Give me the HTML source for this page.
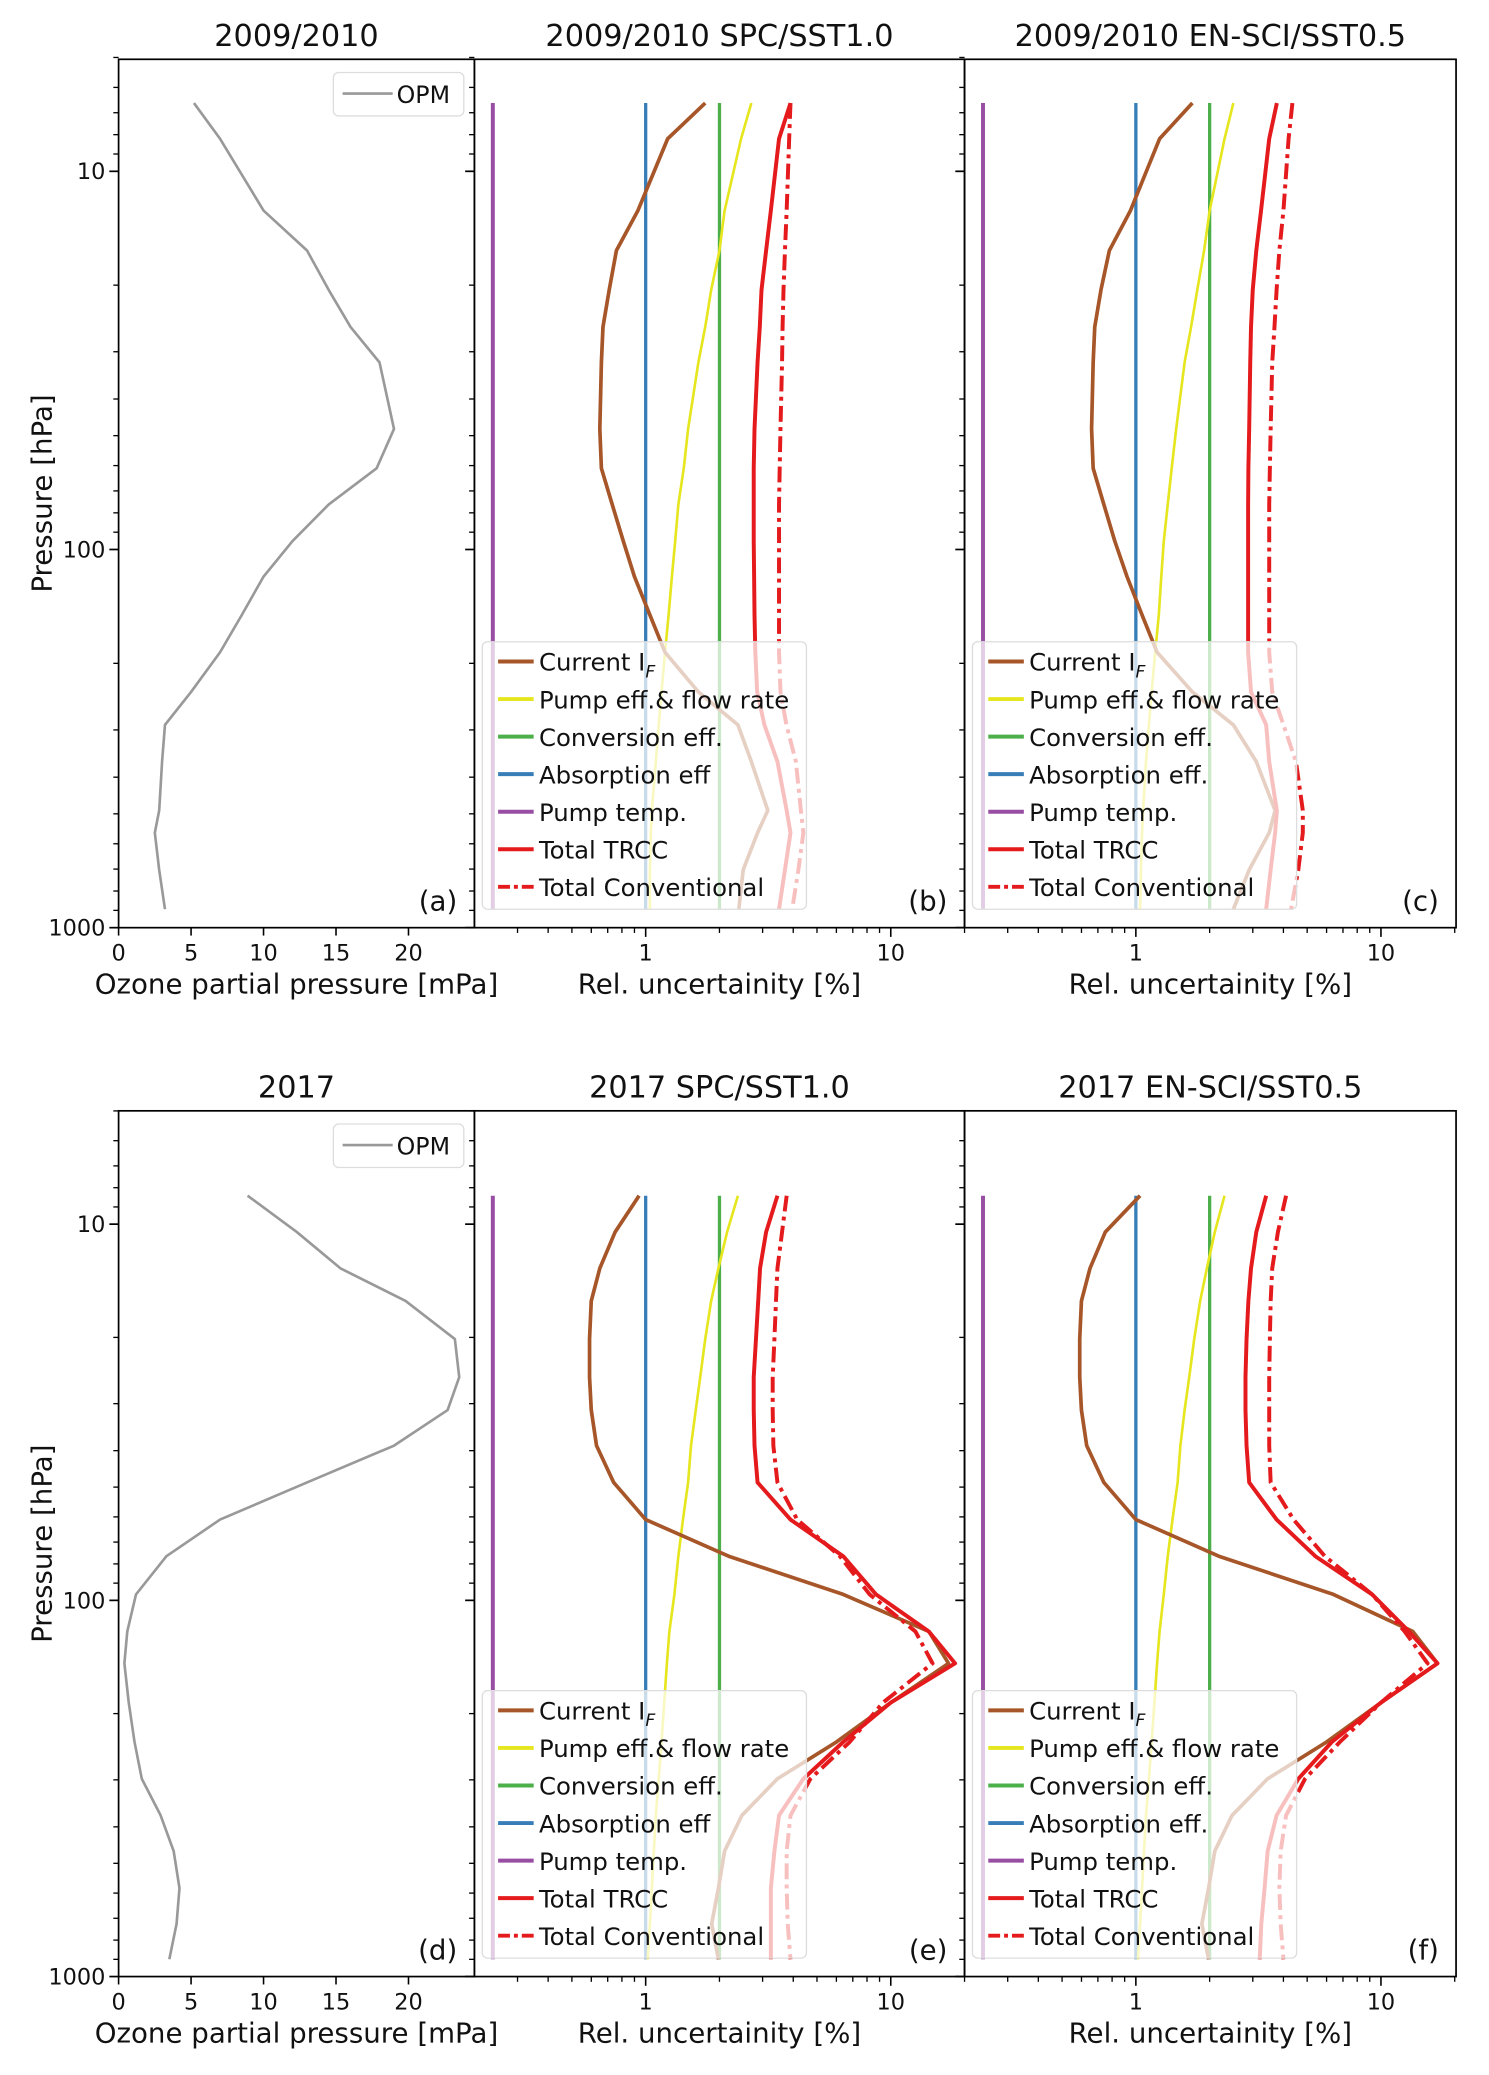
<!DOCTYPE html>
<html><head><meta charset="utf-8"><style>
body{margin:0;background:#fff}
svg{display:block}
text{font-family:"DejaVu Sans","Liberation Sans",sans-serif;fill:#111}
</style></head><body>
<svg id="fig" width="1489" height="2075" viewBox="0 0 1130 1574.7" xmlns="http://www.w3.org/2000/svg"></svg>
<script>
// ---- data ----
const pTop = [6.6,8.2,12.7,16.2,20.6,25.8,32,48,61,76,95,118,149,187,238,291,364,490,561,703,894];
const opmTop = [5.2,7,10,13,14.5,16,18,19,17.8,14.5,12,10,8.5,7,5,3.2,3,2.8,2.5,2.8,3.2];
const bCurrent = [1.75,1.23,0.93,0.76,0.71,0.67,0.66,0.65,0.66,0.73,0.81,0.9,1.04,1.2,1.64,2.38,2.7,3.15,2.86,2.5,2.4];
const bPump = [2.7,2.45,2.1,2.0,1.85,1.75,1.64,1.49,1.43,1.36,1.32,1.28,1.24,1.2,1.16,1.13,1.1,1.06,1.05,1.04,1.04];
const bTrcc = [3.9,3.5,3.24,3.1,2.97,2.92,2.86,2.78,2.76,2.76,2.76,2.77,2.78,2.8,2.85,3.05,3.45,3.76,3.9,3.7,3.5];
const bConv = [3.9,3.85,3.76,3.7,3.65,3.62,3.6,3.55,3.52,3.5,3.5,3.5,3.5,3.5,3.55,3.75,4.1,4.3,4.4,4.2,3.96];
const cCurrent = [1.7,1.25,0.95,0.78,0.72,0.68,0.67,0.66,0.67,0.74,0.82,0.92,1.06,1.22,1.7,2.5,3.1,3.7,3.5,2.9,2.5];
const cPump = [2.5,2.3,2.0,1.9,1.78,1.68,1.58,1.46,1.4,1.35,1.3,1.27,1.24,1.2,1.16,1.13,1.1,1.07,1.06,1.05,1.04];
const cTrcc = [3.76,3.5,3.24,3.1,3.0,2.95,2.93,2.9,2.88,2.87,2.87,2.87,2.87,2.87,2.95,3.4,3.5,3.76,3.7,3.55,3.4];
const cConv = [4.35,4.2,4.0,3.85,3.75,3.68,3.6,3.55,3.52,3.5,3.5,3.5,3.5,3.5,3.6,4.0,4.5,4.8,4.8,4.6,4.3];
const pBot = [8.4,10.5,13.1,16,20.2,25.5,31.2,38.8,48.6,61,76.3,96.4,121,147,187,238,298,373,464,582,724,900];
const opmBot = [8.9,12.3,15.3,19.8,23.2,23.5,22.7,19,13,7,3.3,1.2,0.6,0.4,0.7,1.1,1.6,2.9,3.8,4.2,4,3.5];
const eCurrent = [0.94,0.75,0.65,0.6,0.59,0.59,0.6,0.63,0.74,1.0,2.18,6.4,14.3,17.2,10,6,3.45,2.47,2.1,1.98,1.86,1.98];
const ePump = [2.38,2.15,1.98,1.85,1.75,1.67,1.6,1.53,1.49,1.42,1.36,1.31,1.25,1.22,1.19,1.16,1.13,1.1,1.08,1.06,1.04,1.02];
const eTrcc = [3.45,3.1,2.93,2.88,2.82,2.76,2.76,2.78,2.86,3.9,6.4,8.7,14.3,18.3,10,6.4,4.4,3.5,3.35,3.24,3.24,3.24];
const eConv = [3.76,3.6,3.45,3.4,3.35,3.3,3.3,3.32,3.45,4.15,6.2,8.2,12.6,14.8,9.3,6.8,4.7,3.9,3.76,3.76,3.8,3.9];
const fCurrent = [1.04,0.75,0.65,0.6,0.59,0.59,0.6,0.63,0.74,1.0,2.18,6.4,13.5,17,10,6,3.45,2.47,2.1,1.98,1.86,1.98];
const fPump = [2.3,2.1,1.95,1.83,1.73,1.65,1.58,1.52,1.48,1.41,1.35,1.3,1.25,1.22,1.19,1.16,1.13,1.1,1.08,1.06,1.04,1.02];
const fTrcc = [3.4,3.1,2.95,2.88,2.83,2.8,2.8,2.83,2.9,3.75,5.4,9.2,13,17,10,6.3,4.6,3.75,3.45,3.35,3.25,3.2];
const fConv = [4.1,3.8,3.6,3.55,3.52,3.5,3.5,3.5,3.55,4.4,5.9,9.2,12.5,15.5,10,6.8,4.9,4.1,3.9,3.85,3.9,4.0];
const legendLabels = ["Current I","Pump eff.& flow rate","Conversion eff.","Absorption eff","Pump temp.","Total TRCC","Total Conventional"];
const yTickLabels = ["10","100","1000"];
const xTicksA = [0,5,10,15,20];
const xTicksLog = [1,10];

// ---- helpers ----
const svg=document.getElementById('fig');const NS='http://www.w3.org/2000/svg';
function el(tag,attrs,parent){const e=document.createElementNS(NS,tag);for(const k in attrs)e.setAttribute(k,attrs[k]);(parent||svg).appendChild(e);return e;}
function txt(s,attrs,parent){const e=el('text',attrs,parent);e.textContent=s;return e;}
const rows=[{top:45,bot:704,y10:130,dec:287},{top:843,bot:1500,y10:929,dec:285.5}];
const cols=[{l:90,r:360},{l:360,r:732,x1:490},{l:732,r:1105,x1:862}];
const LD=186;
function yScale(row,p){return row.y10+(Math.log10(p)-1)*row.dec;}
function xLin(v){return 90+v*11;}
function xLog(col,v){return col.x1+Math.log10(v)*LD;}
const colors={cur:'#a65628',pump:'#e6e61e',conv:'#4daf4a',abs:'#377eb8',temp:'#984ea3',red:'#e41a1c'};

function drawLine(pts,stroke,w,dash,name,g){
  const e=el('polyline',{points:pts.map(q=>q[0].toFixed(1)+','+q[1].toFixed(1)).join(' '),fill:'none',stroke:stroke,'stroke-width':w,'stroke-dasharray':dash||'','stroke-linejoin':'round'},g);
  
  
}

function yAxisTicks(row,x,labels){
  for(let d=0;d<3;d++){
    const p=Math.pow(10,d+1);
    const y=yScale(row,p);
    el('line',{x1:x-7,x2:x,y1:y,y2:y,stroke:'#000','stroke-width':1.3});
    if(labels){const t=txt(yTickLabels[d],{x:x-10,y:y+6,'font-size':17,'text-anchor':'end'});
      }
  }
  for(let d=0;d<3;d++)for(let m=2;m<10;m++){const p=m*Math.pow(10,d);if(p<5||p>1000)continue;const y=yScale(row,p);el('line',{x1:x-4,x2:x,y1:y,y2:y,stroke:'#000','stroke-width':1});}
}

function panelFrame(ri,ci,title,letter){
  const row=rows[ri],col=cols[ci];
  const r=el('rect',{x:col.l,y:row.top,width:col.r-col.l,height:row.bot-row.top,fill:'none',stroke:'#000','stroke-width':1.3});
  
  const t=txt(title,{x:(col.l+col.r)/2,y:row.top-10,'font-size':23,'text-anchor':'middle'});
  
  const pl=txt('('+letter+')',{x:col.r-13,y:row.bot-13,'font-size':21,'text-anchor':'end'});
  
  yAxisTicks(row,col.l,ci===0);
  if(ci===0){
    xTicksA.forEach(v=>{const x=xLin(v);el('line',{x1:x,x2:x,y1:row.bot,y2:row.bot+6,stroke:'#000','stroke-width':1.2});
      const tl=txt(String(v),{x:x,y:row.bot+25,'font-size':17,'text-anchor':'middle'});});
    const xl=txt('Ozone partial pressure [mPa]',{x:225,y:row.bot+50,'font-size':21,'text-anchor':'middle'});
    
    const yl=txt('Pressure [hPa]',{x:0,y:0,'font-size':21,'text-anchor':'middle',transform:'translate(39,'+((row.top+row.bot)/2)+') rotate(-90)'});
    
  } else {
    xTicksLog.forEach(v=>{const x=xLog(col,v);el('line',{x1:x,x2:x,y1:row.bot,y2:row.bot+7,stroke:'#000','stroke-width':1.2});
      const tl=txt(String(v),{x:x,y:row.bot+25,'font-size':17,'text-anchor':'middle'});});
    [0.3,0.4,0.5,0.6,0.7,0.8,0.9,2,3,4,5,6,7,8,9,20].forEach(v=>{const x=xLog(col,v);el('line',{x1:x,x2:x,y1:row.bot,y2:row.bot+4,stroke:'#000','stroke-width':1});});
    const xl=txt('Rel. uncertainity [%]',{x:(col.l+col.r)/2,y:row.bot+50,'font-size':21,'text-anchor':'middle'});
    
  }
}

function opmPanel(ri,press,vals,title,letter){
  const row=rows[ri];
  panelFrame(ri,0,title,letter);
  drawLine(press.map((p,i)=>[xLin(vals[i]),yScale(row,p)]),'#999',2,'','opm-profile-line');
  const lg=el('g',{});
  el('rect',{x:253,y:row.top+10,width:99,height:33,rx:4,fill:'#fff',stroke:'#ddd'},lg);
  el('line',{x1:260,x2:298,y1:row.top+26,y2:row.top+26,stroke:'#999','stroke-width':2},lg);
  txt('OPM',{x:301,y:row.top+33,'font-size':18},lg);
}

function uncPanel(ri,ci,press,series,title,letter,absLabel){
  const row=rows[ri],col=cols[ci];
  const g=el('g',{});
  const const_=(v)=>press.map(()=>v);
  const px=(arr)=>press.map((p,i)=>[xLog(col,arr[i]),yScale(row,p)]);
  drawLine(px(const_(0.238)),colors.temp,3,'','pump-temp-line',g);
  drawLine(px(const_(1)),colors.abs,2.5,'','absorption-eff-line',g);
  drawLine(px(const_(2)),colors.conv,2.5,'','conversion-eff-line',g);
  drawLine(px(series[1]),colors.pump,2,'','pump-eff-flow-line',g);
  drawLine(px(series[0]),colors.cur,2.8,'','current-if-line',g);
  drawLine(px(series[2]),colors.red,3,'','total-trcc-line',g);
  drawLine(px(series[3]),colors.red,3,'12 4 3 4','total-conventional-line',g);
  // legend
  const lx=col.l+6, ly=row.bot-217;
  const lg=el('g',{});
  el('rect',{x:lx,y:ly,width:246,height:203,rx:4,fill:'#fff','fill-opacity':0.72,stroke:'#ddd'},lg);
  const cs=[colors.cur,colors.pump,colors.conv,colors.abs,colors.temp,colors.red,colors.red];
  legendLabels.forEach((lab,i)=>{
    const y=ly+15+i*28.5;
    const ln=el('line',{x1:lx+12,x2:lx+39,y1:y,y2:y,stroke:cs[i],'stroke-width':3,'stroke-dasharray':i===6?'9 3 3 3':''},lg);
    
    let s=lab; if(i===3&&absLabel)s='Absorption eff.';
    const t=txt(s,{x:lx+43,y:y+7,'font-size':18.5},lg);
    
    if(i===0){const sub=el('tspan',{'font-size':13,dy:5,'font-style':'italic'},t);sub.textContent='F';}
  });
  panelFrame(ri,ci,title,letter);
}

opmPanel(0,pTop,opmTop,'2009/2010','a');
uncPanel(0,1,pTop,[bCurrent,bPump,bTrcc,bConv],'2009/2010 SPC/SST1.0','b',false);
uncPanel(0,2,pTop,[cCurrent,cPump,cTrcc,cConv],'2009/2010 EN-SCI/SST0.5','c',true);
opmPanel(1,pBot,opmBot,'2017','d');
uncPanel(1,1,pBot,[eCurrent,ePump,eTrcc,eConv],'2017 SPC/SST1.0','e',false);
uncPanel(1,2,pBot,[fCurrent,fPump,fTrcc,fConv],'2017 EN-SCI/SST0.5','f',true);
</script>
</body></html>
